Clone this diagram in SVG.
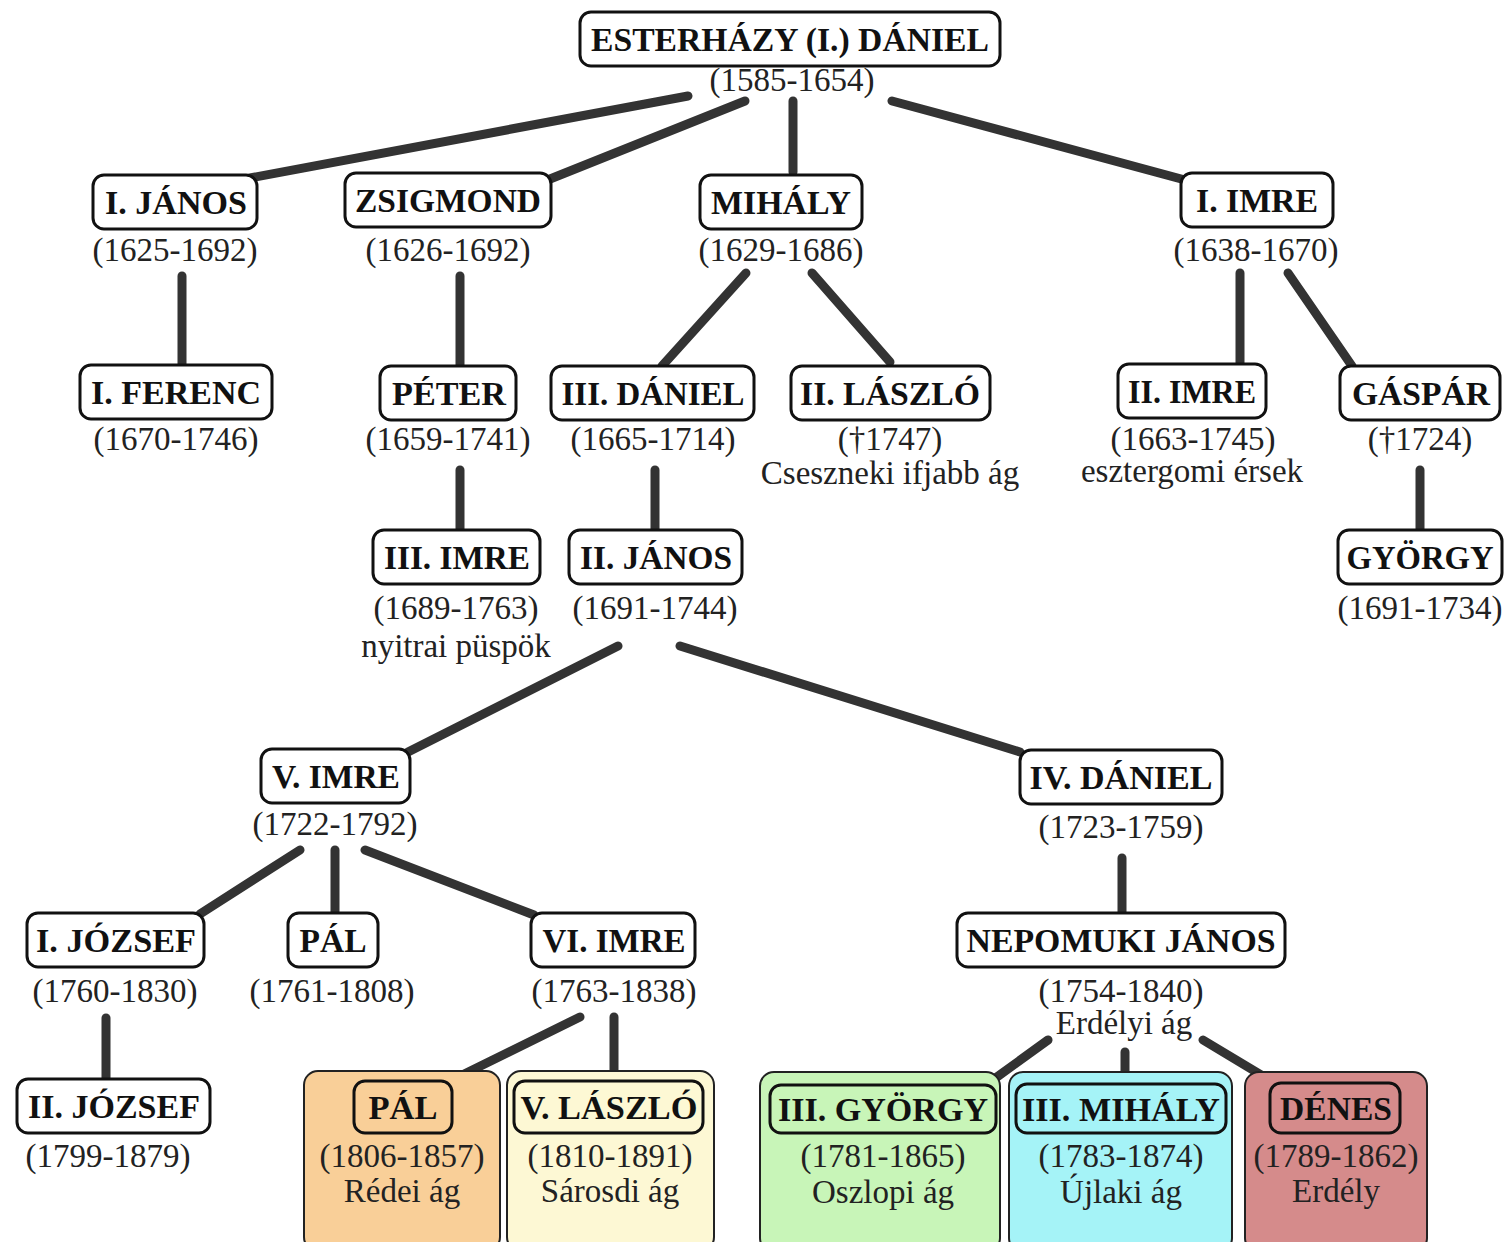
<svg xmlns="http://www.w3.org/2000/svg" width="1509" height="1242" viewBox="0 0 1509 1242">
<style>
.bg{fill:#fff}
.nb{fill:#fff;stroke:#111;stroke-width:3}
.nbc{fill:none;stroke:#111;stroke-width:3}
.cb{stroke:#222;stroke-width:2}
.nm{font-family:"Liberation Serif","DejaVu Serif",serif;font-weight:bold;font-size:33px;fill:#111;text-anchor:middle}
.dt{font-family:"Liberation Serif","DejaVu Serif",serif;font-size:33px;fill:#222;text-anchor:middle}
.cn line{stroke:#333;stroke-width:9;stroke-linecap:round}
</style>
<rect class="bg" x="0" y="0" width="1509" height="1242"/>
<g id="connectors" class="cn">
<line x1="688" y1="96" x2="250" y2="178"/>
<line x1="745" y1="101" x2="545" y2="181"/>
<line x1="793" y1="101" x2="793" y2="172"/>
<line x1="892" y1="101" x2="1185" y2="180"/>
<line x1="182" y1="276" x2="182" y2="365"/>
<line x1="460" y1="276" x2="460" y2="366"/>
<line x1="746" y1="273" x2="662" y2="366"/>
<line x1="812" y1="273" x2="890" y2="362"/>
<line x1="1240" y1="273" x2="1240" y2="364"/>
<line x1="1288" y1="273" x2="1352" y2="366"/>
<line x1="460" y1="470" x2="460" y2="530"/>
<line x1="655" y1="470" x2="655" y2="530"/>
<line x1="1420" y1="470" x2="1420" y2="530"/>
<line x1="618" y1="646" x2="408" y2="752"/>
<line x1="680" y1="646" x2="1020" y2="752"/>
<line x1="300" y1="850" x2="200" y2="914"/>
<line x1="335" y1="850" x2="335" y2="913"/>
<line x1="365" y1="850" x2="534" y2="915"/>
<line x1="1122" y1="858" x2="1122" y2="913"/>
<line x1="106" y1="1018" x2="106" y2="1079"/>
<line x1="580" y1="1017" x2="448" y2="1082"/>
<line x1="614" y1="1017" x2="614" y2="1081"/>
<line x1="1048" y1="1040" x2="990" y2="1082"/>
<line x1="1125" y1="1052" x2="1125" y2="1084"/>
<line x1="1203" y1="1040" x2="1278" y2="1085"/>
</g>

<g id="n-daniel1">
<rect class="nb" x="580" y="12" width="420" height="54" rx="11"/>
<text class="nm" x="790" y="51" textLength="398" lengthAdjust="spacingAndGlyphs">ESTERHÁZY (I.) DÁNIEL</text>
<text class="dt" x="792" y="91">(1585-1654)</text>
</g>
<g id="n-janos1">
<rect class="nb" x="93" y="175" width="164" height="54" rx="11"/>
<text class="nm" x="176" y="214" textLength="142" lengthAdjust="spacingAndGlyphs">I. JÁNOS</text>
<text class="dt" x="175" y="261">(1625-1692)</text>
</g>
<g id="n-zsigmond">
<rect class="nb" x="345" y="173" width="206" height="54" rx="11"/>
<text class="nm" x="448" y="212" textLength="186" lengthAdjust="spacingAndGlyphs">ZSIGMOND</text>
<text class="dt" x="448" y="261">(1626-1692)</text>
</g>
<g id="n-mihaly">
<rect class="nb" x="700" y="175" width="162" height="54" rx="11"/>
<text class="nm" x="781" y="214" textLength="140" lengthAdjust="spacingAndGlyphs">MIHÁLY</text>
<text class="dt" x="781" y="261">(1629-1686)</text>
</g>
<g id="n-imre1">
<rect class="nb" x="1181" y="173" width="152" height="54" rx="11"/>
<text class="nm" x="1257" y="212" textLength="122" lengthAdjust="spacingAndGlyphs">I. IMRE</text>
<text class="dt" x="1256" y="261">(1638-1670)</text>
</g>
<g id="n-ferenc1">
<rect class="nb" x="80" y="365" width="192" height="54" rx="11"/>
<text class="nm" x="176" y="404" textLength="170" lengthAdjust="spacingAndGlyphs">I. FERENC</text>
<text class="dt" x="176" y="450">(1670-1746)</text>
</g>
<g id="n-peter">
<rect class="nb" x="380" y="366" width="136" height="54" rx="11"/>
<text class="nm" x="449" y="405" textLength="114" lengthAdjust="spacingAndGlyphs">PÉTER</text>
<text class="dt" x="448" y="450">(1659-1741)</text>
</g>
<g id="n-daniel3">
<rect class="nb" x="551" y="366" width="203" height="54" rx="11"/>
<text class="nm" x="653" y="405" textLength="183" lengthAdjust="spacingAndGlyphs">III. DÁNIEL</text>
<text class="dt" x="653" y="450">(1665-1714)</text>
</g>
<g id="n-laszlo2">
<rect class="nb" x="791" y="366" width="199" height="54" rx="11"/>
<text class="nm" x="890" y="405" textLength="180" lengthAdjust="spacingAndGlyphs">II. LÁSZLÓ</text>
<text class="dt" x="890" y="450">(†1747)</text>
<text class="dt" x="890" y="484">Cseszneki ifjabb ág</text>
</g>
<g id="n-imre2">
<rect class="nb" x="1118" y="364" width="148" height="54" rx="11"/>
<text class="nm" x="1192" y="403" textLength="128" lengthAdjust="spacingAndGlyphs">II. IMRE</text>
<text class="dt" x="1193" y="450">(1663-1745)</text>
<text class="dt" x="1192" y="482">esztergomi érsek</text>
</g>
<g id="n-gaspar">
<rect class="nb" x="1340" y="366" width="160" height="54" rx="11"/>
<text class="nm" x="1421" y="405" textLength="138" lengthAdjust="spacingAndGlyphs">GÁSPÁR</text>
<text class="dt" x="1420" y="450">(†1724)</text>
</g>
<g id="n-imre3">
<rect class="nb" x="373" y="530" width="167" height="54" rx="11"/>
<text class="nm" x="457" y="569" textLength="146" lengthAdjust="spacingAndGlyphs">III. IMRE</text>
<text class="dt" x="456" y="619">(1689-1763)</text>
<text class="dt" x="456" y="657">nyitrai püspök</text>
</g>
<g id="n-janos2">
<rect class="nb" x="569" y="530" width="173" height="54" rx="11"/>
<text class="nm" x="656" y="569" textLength="152" lengthAdjust="spacingAndGlyphs">II. JÁNOS</text>
<text class="dt" x="655" y="619">(1691-1744)</text>
</g>
<g id="n-gyorgy">
<rect class="nb" x="1338" y="530" width="164" height="54" rx="11"/>
<text class="nm" x="1420" y="569" textLength="147" lengthAdjust="spacingAndGlyphs">GYÖRGY</text>
<text class="dt" x="1420" y="619">(1691-1734)</text>
</g>
<g id="n-imre5">
<rect class="nb" x="261" y="749" width="149" height="54" rx="11"/>
<text class="nm" x="336" y="788" textLength="128" lengthAdjust="spacingAndGlyphs">V. IMRE</text>
<text class="dt" x="335" y="835">(1722-1792)</text>
</g>
<g id="n-daniel4">
<rect class="nb" x="1020" y="750" width="202" height="54" rx="11"/>
<text class="nm" x="1121" y="789" textLength="183" lengthAdjust="spacingAndGlyphs">IV. DÁNIEL</text>
<text class="dt" x="1121" y="838">(1723-1759)</text>
</g>
<g id="n-jozsef1">
<rect class="nb" x="27" y="913" width="177" height="54" rx="11"/>
<text class="nm" x="116" y="952" textLength="160" lengthAdjust="spacingAndGlyphs">I. JÓZSEF</text>
<text class="dt" x="115" y="1002">(1760-1830)</text>
</g>
<g id="n-pal1">
<rect class="nb" x="288" y="913" width="90" height="54" rx="11"/>
<text class="nm" x="333" y="952" textLength="67" lengthAdjust="spacingAndGlyphs">PÁL</text>
<text class="dt" x="332" y="1002">(1761-1808)</text>
</g>
<g id="n-imre6">
<rect class="nb" x="531" y="913" width="164" height="54" rx="11"/>
<text class="nm" x="614" y="952" textLength="143" lengthAdjust="spacingAndGlyphs">VI. IMRE</text>
<text class="dt" x="614" y="1002">(1763-1838)</text>
</g>
<g id="n-nepomuki">
<rect class="nb" x="957" y="913" width="328" height="54" rx="11"/>
<text class="nm" x="1121" y="952" textLength="309" lengthAdjust="spacingAndGlyphs">NEPOMUKI JÁNOS</text>
<text class="dt" x="1121" y="1002">(1754-1840)</text>
<text class="dt" x="1124" y="1034">Erdélyi ág</text>
</g>
<g id="n-jozsef2">
<rect class="nb" x="17" y="1079" width="193" height="54" rx="11"/>
<text class="nm" x="114" y="1118" textLength="172" lengthAdjust="spacingAndGlyphs">II. JÓZSEF</text>
<text class="dt" x="108" y="1167">(1799-1879)</text>
</g>
<g id="n-pal2">
<rect class="cb" x="304" y="1071" width="196" height="180" rx="14" fill="#f9cf98"/>
<rect class="nbc" x="354" y="1081" width="98" height="52" rx="11"/>
<text class="nm" x="403" y="1119" textLength="69" lengthAdjust="spacingAndGlyphs">PÁL</text>
<text class="dt" x="402" y="1167">(1806-1857)</text>
<text class="dt" x="402" y="1202">Rédei ág</text>
</g>
<g id="n-laszlo5">
<rect class="cb" x="507" y="1071" width="207" height="180" rx="14" fill="#fdf8d4"/>
<rect class="nbc" x="514" y="1081" width="189" height="52" rx="11"/>
<text class="nm" x="609" y="1119" textLength="177" lengthAdjust="spacingAndGlyphs">V. LÁSZLÓ</text>
<text class="dt" x="610" y="1167">(1810-1891)</text>
<text class="dt" x="610" y="1202">Sárosdi ág</text>
</g>
<g id="n-gyorgy3">
<rect class="cb" x="760" y="1072" width="240" height="180" rx="14" fill="#c8f5b8"/>
<rect class="nbc" x="770" y="1085" width="226" height="48" rx="11"/>
<text class="nm" x="883" y="1121" textLength="210" lengthAdjust="spacingAndGlyphs">III. GYÖRGY</text>
<text class="dt" x="883" y="1167">(1781-1865)</text>
<text class="dt" x="883" y="1203">Oszlopi ág</text>
</g>
<g id="n-mihaly3">
<rect class="cb" x="1009" y="1072" width="223" height="180" rx="14" fill="#a5f3f7"/>
<rect class="nbc" x="1016" y="1084" width="210" height="49" rx="11"/>
<text class="nm" x="1121" y="1121" textLength="198" lengthAdjust="spacingAndGlyphs">III. MIHÁLY</text>
<text class="dt" x="1121" y="1167">(1783-1874)</text>
<text class="dt" x="1121" y="1203">Újlaki ág</text>
</g>
<g id="n-denes">
<rect class="cb" x="1245" y="1072" width="182" height="180" rx="14" fill="#d58b8b"/>
<rect class="nbc" x="1270" y="1083" width="130" height="50" rx="11"/>
<text class="nm" x="1336" y="1120" textLength="112" lengthAdjust="spacingAndGlyphs">DÉNES</text>
<text class="dt" x="1336" y="1167">(1789-1862)</text>
<text class="dt" x="1336" y="1202">Erdély</text>
</g>
</svg>
